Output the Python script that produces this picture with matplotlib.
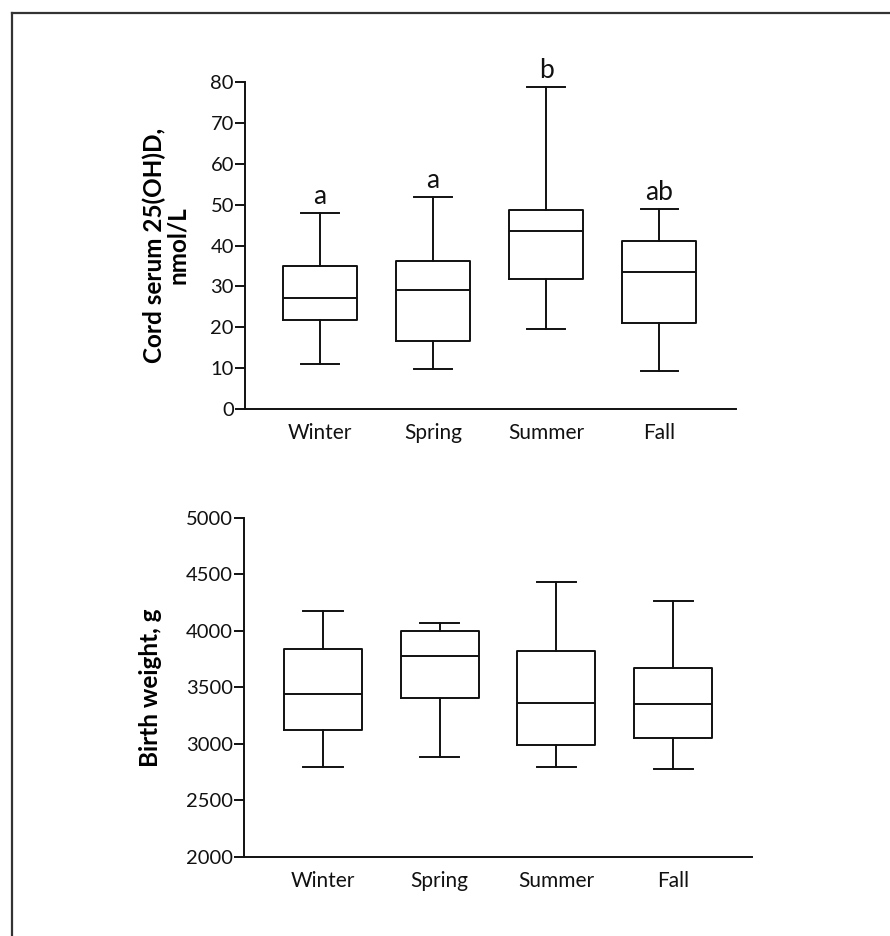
import matplotlib
matplotlib.use("Agg")
import matplotlib.pyplot as plt
from matplotlib.lines import Line2D

plt.rcParams['font.family'] = ['Lato', 'DejaVu Sans']

seasons = ["Winter", "Spring", "Summer", "Fall"]

# cord serum 25(OH)D, nmol/L  (min, q1, median, q3, max)
vitd_min = [11.0, 9.8, 19.6, 9.3]
vitd_q1 = [21.8, 16.6, 31.8, 21.0]
vitd_med = [27.1, 29.1, 43.5, 33.5]
vitd_q3 = [35.0, 36.2, 48.7, 41.1]
vitd_max = [47.9, 51.8, 78.7, 48.9]
vitd_letters = ["a", "a", "b", "ab"]

# birth weight, g
bw_min = [2796, 2885, 2800, 2779]
bw_q1 = [3124, 3407, 2991, 3053]
bw_med = [3442, 3779, 3363, 3354]
bw_q3 = [3841, 4000, 3823, 3673]
bw_max = [4177, 4071, 4434, 4265]


def make_stats(lo, q1, med, q3, hi):
    out = []
    for i in range(len(seasons)):
        out.append(dict(whislo=lo[i], q1=q1[i], med=med[i], q3=q3[i],
                        whishi=hi[i], fliers=[], label=seasons[i]))
    return out


def style_axis(ax):
    ax.spines['top'].set_visible(False)
    ax.spines['right'].set_visible(False)
    for s in ['left', 'bottom']:
        ax.spines[s].set_linewidth(1.4)
        ax.spines[s].set_color('#111111')
    ax.tick_params(axis='y', length=7, width=1.4, labelsize=14.5, pad=1,
                   colors='#111111')
    ax.tick_params(axis='x', length=0, labelsize=15, pad=10,
                   colors='#111111')


lw = 1.4
props = dict(color='#111111', linewidth=lw)

fig = plt.figure(figsize=(8.9, 9.36), dpi=100)

# frame lines (top and left)
fig.add_artist(Line2D([0.0135, 1.0], [0.9856, 0.9856], color='#333333',
                      linewidth=1.6, transform=fig.transFigure))
fig.add_artist(Line2D([0.0135, 0.0135], [0.0, 0.9856], color='#333333',
                      linewidth=1.6, transform=fig.transFigure))

# top panel
ax1 = fig.add_axes([0.2753, 0.5630, 0.5517, 0.3494])
ax1.bxp(make_stats(vitd_min, vitd_q1, vitd_med, vitd_q3, vitd_max),
        positions=[1, 2, 3, 4], widths=0.66, capwidths=0.33,
        showfliers=False, boxprops=props, whiskerprops=props,
        capprops=props, medianprops=props)
ax1.set_xlim(0.336, 4.68)
ax1.set_ylim(0, 80)
ax1.set_yticks(range(0, 81, 10))
style_axis(ax1)
ax1.set_ylabel("Cord serum 25(OH)D,\nnmol/L", fontsize=17.5, fontweight='bold',
               linespacing=1.0)
ax1.yaxis.set_label_coords(-0.114, 0.5)
for i, t in enumerate(vitd_letters):
    ax1.annotate(t, (i + 1, vitd_max[i]), xytext=(0, 3),
                 textcoords='offset points', ha='center', va='bottom',
                 fontsize=19, color='#111111')

# bottom panel
ax2 = fig.add_axes([0.2742, 0.0844, 0.5708, 0.3622])
ax2.bxp(make_stats(bw_min, bw_q1, bw_med, bw_q3, bw_max),
        positions=[1, 2, 3, 4], widths=0.67, capwidths=0.335,
        showfliers=False, boxprops=props, whiskerprops=props,
        capprops=props, medianprops=props)
ax2.set_xlim(0.323, 4.677)
ax2.set_ylim(2000, 5000)
ax2.set_yticks(range(2000, 5001, 500))
style_axis(ax2)
ax2.set_ylabel("Birth weight, g", fontsize=17.5, fontweight='bold')
ax2.yaxis.set_label_coords(-0.161, 0.5)

fig.savefig("out.png", dpi=100)
